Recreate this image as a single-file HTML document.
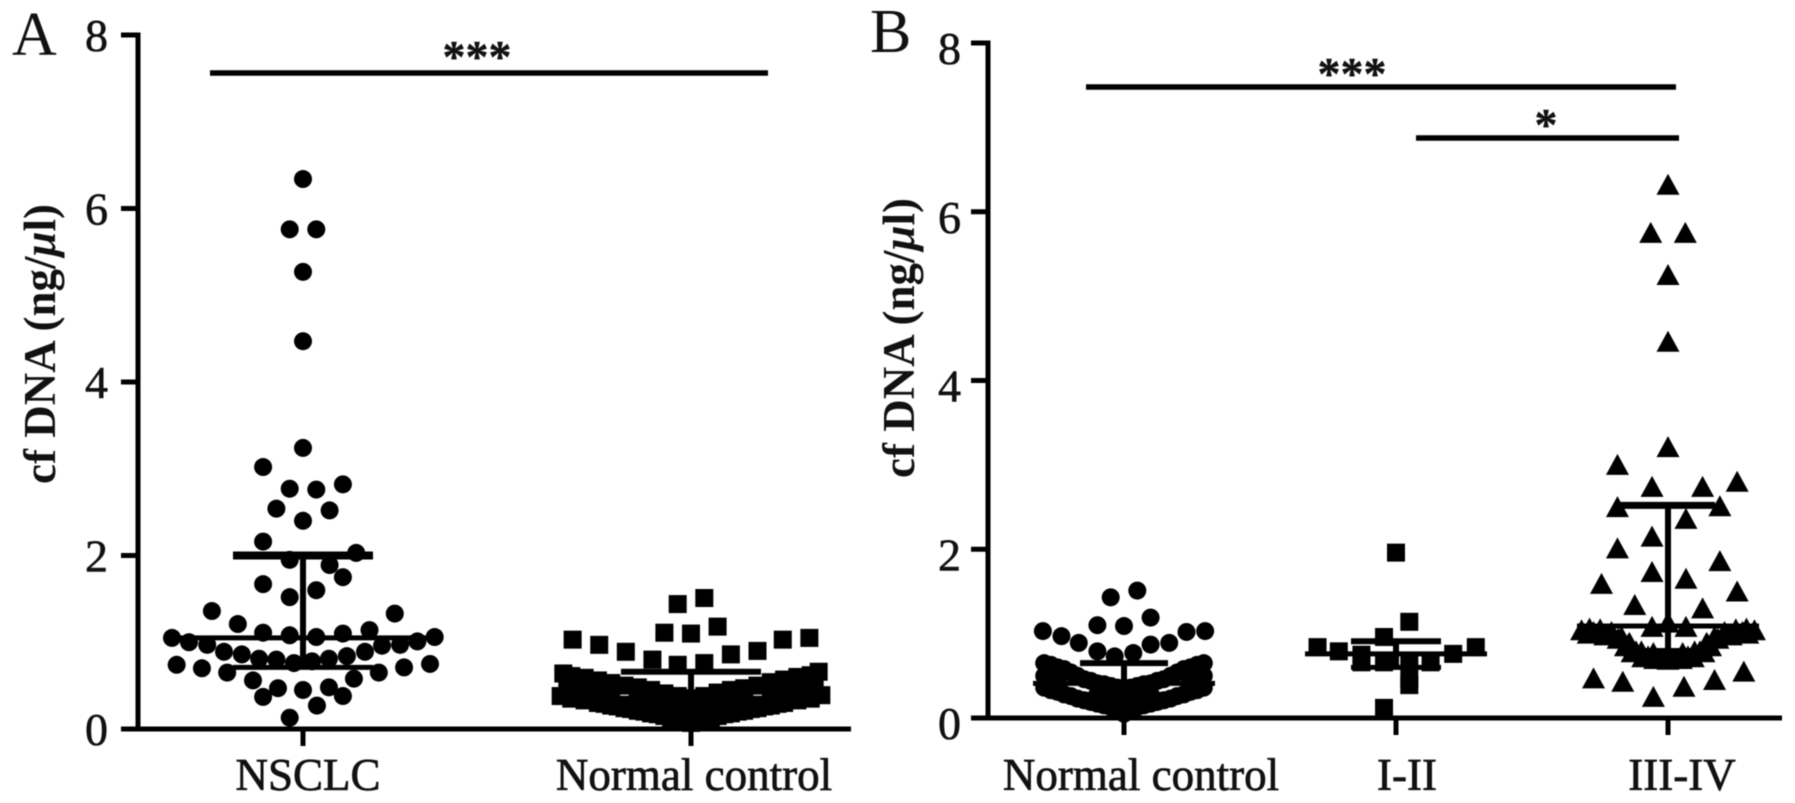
<!DOCTYPE html>
<html lang="en">
<head>
<meta charset="utf-8">
<title>cf DNA dot plots</title>
<style>
html,body{margin:0;padding:0;background:#fff;}
body{width:1795px;height:803px;overflow:hidden;}
svg{display:block;filter:blur(0.45px);}
text{font-family:"Liberation Serif",serif;fill:#111;}
.num{font-size:46px;stroke:#111;stroke-width:.6px;}
.cat{font-size:45px;stroke:#111;stroke-width:.7px;text-anchor:middle;}
.ttl{font-size:45px;font-weight:bold;text-anchor:middle;}
.let{font-size:62px;}
.sig{font-size:46px;font-weight:bold;text-anchor:middle;stroke:#111;stroke-width:.4px;}
</style>
</head>
<body>
<svg id="fig" xmlns="http://www.w3.org/2000/svg" width="1795" height="803" viewBox="0 0 1795 803">
  <rect width="1795" height="803" fill="#fff"/>
  <text class="let" x="12" y="55">A</text>
  <text class="let" x="870" y="52">B</text>
  <text class="ttl" transform="translate(55,344) rotate(-90)">cf DNA (ng/<tspan font-style="italic">μ</tspan>l)</text>
  <text class="ttl" transform="translate(914,338) rotate(-90)">cf DNA (ng/<tspan font-style="italic">μ</tspan>l)</text>
  <line x1="210" x2="768" y1="73" y2="73" stroke="#000" stroke-width="5.5"/>
  <text class="sig" x="477" y="72">***</text>
  <line x1="1086" x2="1676" y1="87" y2="87" stroke="#000" stroke-width="5.5"/>
  <text class="sig" x="1352" y="89">***</text>
  <line x1="1416" x2="1679" y1="138" y2="138" stroke="#000" stroke-width="5.5"/>
  <text class="sig" x="1546" y="140">*</text>
  <g id="plots"></g>
</svg>
<script>
// Shared tick labels
const yTickValues = [0, 2, 4, 6, 8];

// Panel A categories
const panelACategories = ["NSCLC", "Normal control"];
// Panel B categories
const panelBCategories = ["Normal control", "I-II", "III-IV"];

// Panel A / NSCLC: cf DNA values and swarm slot of each dot
const nsclcValues = [6.34,5.76,5.76,5.27,4.47,3.24,3.02,2.77,2.76,2.82,2.54,2.52,2.40,2.16,2.03,1.95,1.89,1.75,1.67,1.60,1.52,1.36,1.21,1.33,1.11,1.08,1.06,1.10,1.14,1.05,1.00,.97,.89,.86,.81,.80,.76,.78,.81,.84,.89,.96,.97,1.01,1.06,.74,.70,.65,.56,.47,.37,.45,.48,.38,.58,.65,.71,.75,.27,.13];
const nsclcSlots = [0,-1,1,0,0,0,-3,-1,1,3,-2,2,0,-3,4,-1,2,3,-3,1,-1,-6.85,-4.9,6.9,-3,-1,1,3,5,-9.85,-8.57,-7.2,-5.94,-4.6,-3.3,-2,-.68,.68,1.95,3.3,4.66,5.94,7.3,8.6,9.9,-9.5,-7.6,-5.7,-3.76,-1.88,-3,0,1.95,3,3.83,5.7,7.6,9.55,1.05,-1];
const nsclcStats = [.71, 1.05, 2.0];

// Panel A / Normal control
const controlAValues = [1.44,1.51,1.11,1.10,1.18,1.03,.97,.89,.80,.74,.76,.86,.90,1.03,1.05,
  .35,.38,.38,.41,.42,.45,.45,.48,.47,.50,.50,.53,.54,.56,.57,.59,.60,.61,.62,.64,.66,
  .07,.11,.11,.15,.15,.18,.18,.21,.21,.24,.24,.27,.27,.30,.30,.33,.33,.35,.35,.38,.39,
  .22,.26,.26,.28,.28,.31,.31,.33,.33,.43,.43,.46,.46,
  .28,.28,.31,.31,.39,.39,.49,.49,.36,.36,.13,.13,.17,.17,.20,.20,.23,.23,.26,.26,.29,.29];
const controlASlots = [-1,1,-2,0,2,-8.9,-6.9,-4.9,-2.9,-1,1,3,5,6.9,8.9,
  0,-1,1,-2,2,-3,3,-4,4,-5,5,-6,6,-7,7,-8,8,-9,9,-9.6,9.6,
  0,-1,1,-2,2,-3,3,-4,4,-5,5,-6,6,-7,7,-8,8,-9,9,-9.8,9.8,
  0,-1,1,-2,2,-3,3,-4,4,-7,7,-8,8,
  -5,5,-6,6,-9,9,-9.3,9.3,-3.5,3.5,-1.5,1.5,-2.5,2.5,-3.5,3.5,-4.5,4.5,-5.5,5.5,-6.5,6.5];
const controlAStats = [.28, .43, .66];

// Panel B / Normal control
const controlBValues = [1.43,1.51,1.10,1.09,1.19,1.03,.97,.89,.79,.73,.77,.87,.89,1.02,1.03,
  .34,.38,.38,.41,.41,.46,.46,.54,.54,.60,.60,.65,.65,
  .09,.13,.13,.17,.17,.21,.21,.26,.26,.31,.31,.36,.36,
  .21,.25,.25,.05,.33,.33,
  .36,.36,.40,.40,.44,.44,.50,.50,.58,.58,.63,.63,
  .11,.11,.15,.15,.19,.19,.23,.23,.28,.28,.33,.33,
  .28,.28,.45,.45,.50,.50,.20,.30,.08];
const controlBSlots = [-1,1,-2,0,2,-6.1,-4.7,-3.4,-2,-.7,.7,2,3.4,4.7,6.1,
  0,-1,1,-2,2,-3,3,-4,4,-5,5,-6,6,
  0,-1,1,-2,2,-3,3,-4,4,-5,5,-6,6,
  0,-1,1,0,-5.3,5.3,
  -.5,.5,-1.5,1.5,-2.5,2.5,-3.5,3.5,-4.5,4.5,-5.5,5.5,
  -.5,.5,-1.5,1.5,-2.5,2.5,-3.5,3.5,-4.5,4.5,-5.5,5.5,
  -2,2,-5,5,-6,6,-.5,0,.4];
const controlBStats = [.28, .41, .65];

// Panel B / stage I-II
const earlyValues = [1.96,1.14,.96,.84,.79,.84,.76,.75,.66,.66,.66,.68,.47,.39,.12];
const earlySlots = [0,1,-.9,-5.9,-4.3,6,4.3,-2.6,-.9,2.6,-2.6,1,1,1,-.9];
const earlyStats = [.60, .76, .91];

// Panel B / stage III-IV
const lateValues = [6.32,5.75,5.75,5.25,4.46,3.21,3.0,2.74,2.74,2.80,2.5,2.51,2.36,2.15,2.01,1.86,1.73,1.65,1.59,1.5,1.34,1.30,1.08,1.08,1.13,.47,.43,.25,.37,.45,.55,
  1.06,1.06,1.05,1.05,1.02,1.02,1.04,1.04,1.02,1.02,.98,.98,.94,.94,.87,.87,.79,.79,.73,.73,.70,.70,.69,.89,.89,.79,.79,.77,.77,.75,.96,.96,
  .85,.85,.78,.78,.72,.72,.70,.70,1.0,1.0];
const lateSlots = [0,-1.3,1.3,0,0,0,-3.8,-1.2,2.6,5.2,-3.8,3.9,1.35,-1.2,-3.8,3.9,-1.2,1.35,-5,5.2,-2.5,2.6,-1.2,1.35,0,-5.6,-3.4,-1.1,1.2,3.5,5.7,
  -5.9,5.9,-5.1,5.1,-4.25,4.25,-6.5,6.5,-5.6,5.6,-4.75,4.75,-3.75,3.75,-3,3,-2.4,2.4,-1.5,1.5,-.6,.6,0,-2.9,2.9,-2,2,-1.1,1.1,0,-3.5,3.5,
  -3.2,3.2,-2.7,2.7,-1.9,1.9,-1,1,-6,6];
const lateStats = [.80, 1.09, 2.52];

const NS = "http://www.w3.org/2000/svg";
const plots = document.getElementById("plots");
const SLOT = 13.3;

function svgEl(tag, attrs, parent) {
  const el = document.createElementNS(NS, tag);
  for (const k in attrs) el.setAttribute(k, attrs[k]);
  parent.appendChild(el);
  return el;
}

function drawPanel(p) {
  const g = svgEl("g", {}, plots);
  
  
  const yAxis = svgEl("line", {x1:p.axisX, x2:p.axisX, y1:p.y(8)-2.5, y2:p.y(0)+2.5, stroke:"#000", "stroke-width":5}, g);
  
  
  const xAxis = svgEl("line", {x1:p.axisX-2.5, x2:p.axisEnd, y1:p.y(0), y2:p.y(0), stroke:"#000", "stroke-width":5}, g);
  
  
  yTickValues.forEach(function (t) {
    const tick = svgEl("line", {x1:p.axisX-p.tickLen, x2:p.axisX, y1:p.y(t), y2:p.y(t), stroke:"#000", "stroke-width":5}, g);
    
    
    const label = svgEl("text", {class:"num", x:p.labelX, y:p.y(t)+p.labelDy, "text-anchor":"end"}, g);
    
    
    label.textContent = t;
  });
  p.categories.forEach(function (c, i) {
    const tick = svgEl("line", {x1:p.x(i), x2:p.x(i), y1:p.y(0), y2:p.y(0)+17, stroke:"#000", "stroke-width":5}, g);
    
    
    const label = svgEl("text", {class:"cat", x:p.x(i)+p.catDx[i], y:790}, g);
    
    
    label.textContent = c;
  });
  p.series.forEach(function (s) {
    const cx = p.x(s.cat);
    s.values.forEach(function (v, i) {
      const px = cx + s.slots[i] * SLOT, py = p.y(v);
      let mark;
      if (s.shape === "circle") {
        mark = svgEl("circle", {cx:px, cy:py, r:9, fill:"#000"}, g);
      } else if (s.shape === "square") {
        mark = svgEl("rect", {x:px-9, y:py-9, width:18, height:18, fill:"#000"}, g);
      } else {
        mark = svgEl("polygon", {points:(px-11.5)+","+(py+10)+" "+px+","+(py-11)+" "+(px+11.5)+","+(py+10), fill:"#000"}, g);
      }
      
      
    });
    const yLow = p.y(s.stats[0]), yMed = p.y(s.stats[1]), yUp = p.y(s.stats[2]);
    const whisker = svgEl("line", {x1:cx, x2:cx, y1:yUp, y2:yLow, stroke:"#000", "stroke-width":6}, g);
    
    
    const upper = svgEl("line", {x1:cx-s.capW, x2:cx+s.capW, y1:yUp, y2:yUp, stroke:"#000", "stroke-width":s.upperThick}, g);
    
    
    const lower = svgEl("line", {x1:cx-s.capW, x2:cx+s.capW, y1:yLow, y2:yLow, stroke:"#000", "stroke-width":5}, g);
    
    
    const med = svgEl("line", {x1:cx-s.medW, x2:cx+s.medW, y1:yMed, y2:yMed, stroke:"#000", "stroke-width":5}, g);
    
    
  });
}

drawPanel({
  name:"panel-a", categories:panelACategories,
  x:function (i) { return 303 + i * 388; },
  y:function (v) { return 729 - v * 86.75; },
  axisX:138, axisEnd:851, tickLen:17, labelX:108, labelDy:16, catDx:[5,3],
  series:[
    {name:"nsclc", cat:0, shape:"circle", values:nsclcValues, slots:nsclcSlots, stats:nsclcStats, capW:70, medW:125, upperThick:8},
    {name:"normal-control-a", cat:1, shape:"square", values:controlAValues, slots:controlASlots, stats:controlAStats, capW:70, medW:125, upperThick:6}
  ]
});
drawPanel({
  name:"panel-b", categories:panelBCategories,
  x:function (i) { return 1124 + i * 272; },
  y:function (v) { return 718 - v * 84.375; },
  axisX:988, axisEnd:1782, tickLen:17, labelX:961, labelDy:21, catDx:[17,11,14],
  series:[
    {name:"normal-control-b", cat:0, shape:"circle", values:controlBValues, slots:controlBSlots, stats:controlBStats, capW:44, medW:91, upperThick:6},
    {name:"stage-i-ii", cat:1, shape:"square", values:earlyValues, slots:earlySlots, stats:earlyStats, capW:45, medW:91, upperThick:6},
    {name:"stage-iii-iv", cat:2, shape:"triangle", values:lateValues, slots:lateSlots, stats:lateStats, capW:47, medW:91, upperThick:7}
  ]
});
</script>
</body>
</html>
